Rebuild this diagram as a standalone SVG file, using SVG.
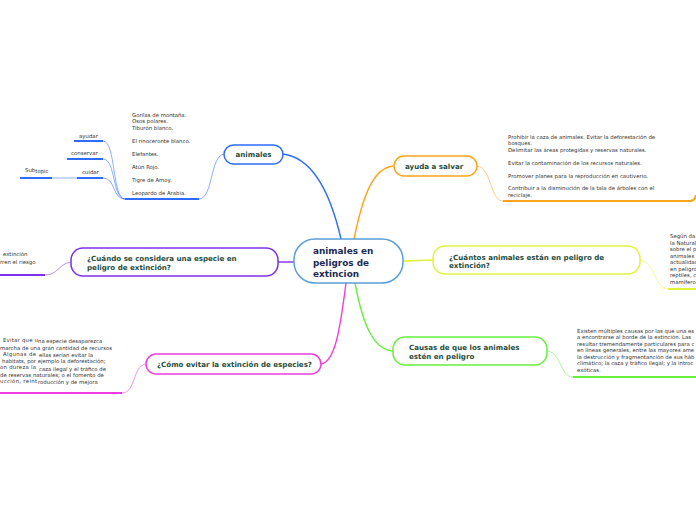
<svg xmlns="http://www.w3.org/2000/svg" width="696" height="520" viewBox="0 0 696 520">
<style>
.bg{fill:#ffffff}
.node{fill:#ffffff;stroke-width:1.5}
.title{font-family:"DejaVu Sans",Verdana,sans-serif;font-weight:bold;font-size:7.1px;fill:#1f4d3d}
.center{font-family:"DejaVu Sans",Verdana,sans-serif;font-weight:bold;font-size:8.9px;fill:#1b2a52}
.small{font-family:"DejaVu Sans",Verdana,sans-serif;font-size:5.35px;fill:#333333}
.sub{font-family:"DejaVu Sans",Verdana,sans-serif;font-size:5.4px;fill:#333333}
.main{fill:none;stroke-width:1.4}
.thin{fill:none;stroke-width:1;opacity:0.55}
.ul{fill:none;stroke-width:2}
</style>
<rect class="bg" x="0" y="0" width="696" height="520"/>
<g id="connectors">
  <path class="main" stroke="#2f6bff" d="M283,154 C315,158 332,200 341,239"/>
  <path class="main" stroke="#ffa31a" d="M354,239 C362,200 372,168 393,166"/>
  <path class="main" stroke="#e2f23a" d="M403,261 C415,261 421,260 433,260"/>
  <path class="main" stroke="#66f03c" d="M355,283 C362,320 372,350 393,351"/>
  <path class="main" stroke="#f03ce0" d="M346,283 C340,330 335,362 321,364"/>
  <path class="main" stroke="#7b2ff0" d="M294,262 C288,262 284,262 278,262"/>
  <path class="thin" stroke="#2f6bff" d="M224,154 C210,156 213,199 199,199"/>
  <path class="thin" stroke="#2f6bff" d="M125,199 C112,199 116,141 103,141"/>
  <path class="thin" stroke="#2f6bff" d="M125,199 C112,199 116,159 103,159"/>
  <path class="thin" stroke="#2f6bff" d="M125,199 C112,199 116,178 103,178"/>
  <path class="thin" stroke="#2f6bff" d="M77,178 L52,178"/>
  <path class="thin" stroke="#ffa31a" d="M477,166 C492,168 490,201 503,201"/>
  <path class="thin" stroke="#e2f23a" d="M640,260 C655,262 655,289 668,289"/>
  <path class="thin" stroke="#66f03c" d="M547,351 C562,353 560,377 573,377"/>
  <path class="thin" stroke="#f03ce0" d="M146,364 C132,366 136,393 122,393"/>
  <path class="thin" stroke="#7b2ff0" d="M71,262 C58,264 58,275 45,275"/>
</g>
<g id="center">
  <rect class="node" stroke="#5a9fd6" x="294" y="239" width="109" height="44" rx="21"/>
  <text class="center" x="313" y="254">animales en</text>
  <text class="center" x="313" y="265.5">peligros de</text>
  <text class="center" x="313" y="277">extincion</text>
</g>
<g id="animales">
  <rect class="node" stroke="#2f6bff" x="224" y="145" width="59" height="19" rx="9.5"/>
  <text class="title" x="253.5" y="157" text-anchor="middle">animales</text>
</g>
<g id="animales-lista">
  <path class="ul" stroke="#2f6bff" d="M125,199 L199,199"/>
  <text class="small" x="132" y="117">Gorilas de montaña.</text>
  <text class="small" x="132" y="123">Osos polares.</text>
  <text class="small" x="132" y="129.5">Tiburón blanco.</text>
  <text class="small" x="132" y="142.5">El rinoceronte blanco.</text>
  <text class="small" x="132" y="155.5">Elefantes.</text>
  <text class="small" x="132" y="168.5">Atún Rojo.</text>
  <text class="small" x="132" y="181.5">Tigre de Amoy.</text>
  <text class="small" x="132" y="194.5">Leopardo de Arabia.</text>
</g>
<g id="ayudar">
  <path class="ul" stroke="#2f6bff" d="M74,141 L103,141"/>
  <text class="sub" x="79" y="137.5">ayudar</text>
</g>
<g id="conservar">
  <path class="ul" stroke="#2f6bff" d="M67,159 L103,159"/>
  <text class="sub" x="71" y="155">conservar</text>
</g>
<g id="cuidar">
  <path class="ul" stroke="#2f6bff" d="M77,178 L103,178"/>
  <text class="sub" x="82" y="173.5">cuidar</text>
</g>
<g id="subtopic">
  <path class="ul" stroke="#2f6bff" d="M20,178 L52,178"/>
  <text class="sub" x="25" y="171.5">Sub<tspan dy="1.8">topic</tspan></text>
</g>
<g id="ayuda">
  <rect class="node" stroke="#ffa31a" x="394" y="156" width="83" height="20" rx="10"/>
  <text class="title" x="405" y="169">ayuda a salvar</text>
</g>
<g id="ayuda-texto">
  <path class="ul" stroke="#ffa31a" d="M503,201 L690,201 Q695,201 696,195"/>
  <text class="small" x="508" y="138.5">Prohibir la caza de animales. Evitar la deforestación de</text>
  <text class="small" x="508" y="145">bosques.</text>
  <text class="small" x="508" y="151.5">Delimitar las áreas protegidas y reservas naturales.</text>
  <text class="small" x="508" y="164.5">Evitar la contaminación de los recursos naturales.</text>
  <text class="small" x="508" y="177.5">Promover planes para la reproducción en cautiverio.</text>
  <text class="small" x="508" y="190">Contribuir a la disminución de la tala de árboles con el</text>
  <text class="small" x="508" y="196.5">reciclaje.</text>
</g>
<g id="cuantos">
  <rect class="node" stroke="#e2f23a" x="433" y="246" width="207" height="28" rx="12"/>
  <text class="title" x="449" y="259.5">¿Cuántos animales están en peligro de</text>
  <text class="title" x="449" y="267.8">extinción?</text>
</g>
<g id="cuantos-texto">
  <path class="ul" stroke="#e2f23a" d="M668,289 L696,289"/>
  <text class="small" x="670" y="238">Según da</text>
  <text class="small" x="670" y="244.5">la Natural</text>
  <text class="small" x="670" y="251">sobre el p</text>
  <text class="small" x="670" y="257.5">animales</text>
  <text class="small" x="670" y="264">actualidad</text>
  <text class="small" x="670" y="270.5">en peligro</text>
  <text class="small" x="670" y="277">reptiles, c</text>
  <text class="small" x="670" y="283.5">mamífero</text>
</g>
<g id="causas">
  <rect class="node" stroke="#66f03c" x="393" y="337" width="154" height="28" rx="12"/>
  <text class="title" x="409" y="349.5">Causas de que los animales</text>
  <text class="title" x="409" y="358.8">estén en peligro</text>
</g>
<g id="causas-texto">
  <path class="ul" stroke="#66f03c" d="M573,377 L696,377"/>
  <text class="small" x="577" y="332.5">Existen múltiples causas por las que una es</text>
  <text class="small" x="577" y="339">a encontrarse al borde de la extinción. Las</text>
  <text class="small" x="577" y="345.5">resultar tremendamente particulares para c</text>
  <text class="small" x="577" y="352">en líneas generales, entre las mayores ame</text>
  <text class="small" x="577" y="358.5">la destrucción y fragmentanción de sus háb</text>
  <text class="small" x="577" y="365">climático; la caza y tráfico ilegal; y la introc</text>
  <text class="small" x="577" y="371.5">exóticas.</text>
</g>
<g id="cuando">
  <rect class="node" stroke="#7b2ff0" x="71" y="248" width="207" height="28" rx="12"/>
  <text class="title" x="87" y="261">¿Cuándo se considera una especie en</text>
  <text class="title" x="87" y="270.3">peligro de extinción?</text>
</g>
<g id="cuando-texto">
  <path class="ul" stroke="#7b2ff0" d="M0,275 L45,275"/>
  <text class="small" x="3" y="256">extinción</text>
  <text class="small" x="0" y="263.5">rren el riesgo</text>
</g>
<g id="como">
  <rect class="node" stroke="#f03ce0" x="146" y="354" width="175" height="20" rx="10"/>
  <text class="title" x="157" y="366.5">¿Cómo evitar la extinción de especies?</text>
</g>
<g id="como-texto">
  <path class="ul" stroke="#f03ce0" d="M0,393 L122,393"/>
  <text class="small" x="3" y="342" textLength="35" lengthAdjust="spacing">Evitar que u</text>
  <text class="small" x="38" y="343">na especie desaparezca</text>
  <text class="small" x="0" y="349.5">marcha de una gran cantidad de recursos</text>
  <text class="small" x="3" y="355.5" textLength="33" lengthAdjust="spacing">Algunas de</text>
  <text class="small" x="39" y="356.5">ellas serían evitar la</text>
  <text class="small" x="2" y="363">habitats, por ejemplo la deforestación;</text>
  <text class="small" x="0" y="369" textLength="36" lengthAdjust="spacing">on dureza la</text>
  <text class="small" x="39" y="370.5">caza ilegal y el tráfico de</text>
  <text class="small" x="0" y="377">de reservas naturales; o el fomento de</text>
  <text class="small" x="0" y="383" textLength="37" lengthAdjust="spacing">ucción, reint</text>
  <text class="small" x="38" y="384">roducción y de mejora</text>
</g>
</svg>
